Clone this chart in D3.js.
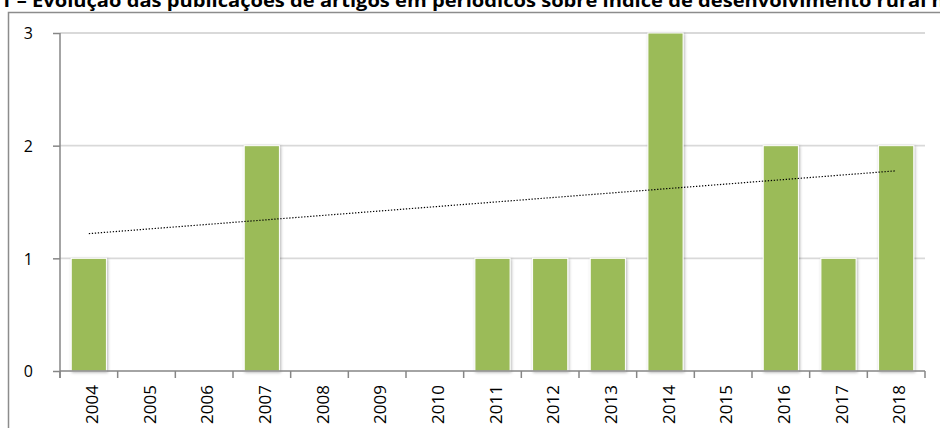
<!DOCTYPE html>
<html>
<head>
<meta charset="utf-8">
<script src="https://cdn.jsdelivr.net/npm/d3@7"></script>
<style>
    body { margin: 0; background: #ffffff; }
    svg { display: block; }
</style>
</head>
<body>
<svg id="workspace" width="940" height="428"></svg>
<script>
/*
 * Publicações por ano - bar chart with linear trend line
 */

var years = ["2004", "2005", "2006", "2007", "2008", "2009", "2010", "2011",
             "2012", "2013", "2014", "2015", "2016", "2017", "2018"];
// blank cells in the source sheet are kept as null
var counts = [1, null, null, 2, null, null, null, 1, 1, 1, 3, null, 2, 1, 2];
var yTicks = [0, 1, 2, 3];
var titleText = "1 – Evolução das publicações de artigos em periódicos sobre índice de desenvolvimento rural";
var titleRest = " no período";

var FONT = "'Open Sans', 'DejaVu Sans', sans-serif";
var svg = d3.select("#workspace");

var plot = { left: 60, right: 925, top: 33, bottom: 371 };

var x = d3.scaleBand()
    .domain(years)
    .range([plot.left, plot.right])
    .paddingInner(0.39)
    .paddingOuter(0.195);

var y = d3.scaleLinear()
    .domain([0, 3])
    .range([plot.bottom, plot.top]);

/**
 * Least squares fit over the non blank cells (as the spreadsheet does)
 * @returns {Object} slope and intercept by category index
 */
function linearTrend() {
    var pts = [];
    counts.forEach(function (v, i) { if (v !== null) pts.push([i, v]); });
    var mx = d3.mean(pts, function (p) { return p[0]; });
    var my = d3.mean(pts, function (p) { return p[1]; });
    var sxy = d3.sum(pts, function (p) { return (p[0] - mx) * (p[1] - my); });
    var sxx = d3.sum(pts, function (p) { return (p[0] - mx) * (p[0] - mx); });
    var slope = sxy / sxx;
    return { slope: slope, intercept: my - slope * mx };
}

/**
 * Title, cut at the top like in the source document
 */
function drawTitle() {
    var t = svg.append("text")
        .attr("x", 0)
        .attr("y", 7)
        .style("font-family", FONT)
        .style("font-weight", "bold")
        .style("font-size", "18px")
        .style("fill", "#000")
        .text(titleText + titleRest);
    var len = t.node().getSubStringLength(0, titleText.length);
    t.attr("transform", "scale(" + (927 / len) + ",1)");
}

/**
 * Outer chart frame
 */
function drawFrame() {
    svg.append("path")
        .attr("d", "M8.5,428 L8.5,12.5 L940,12.5")
        .style("fill", "none")
        .style("stroke", "#8c8c8c")
        .style("stroke-width", 1.5);
}

function drawGrid() {
    svg.append("g").selectAll("line")
        .data(yTicks.filter(function (d) { return d > 0; }))
        .enter().append("line")
        .attr("x1", plot.left)
        .attr("x2", plot.right)
        .attr("y1", function (d) { return y(d); })
        .attr("y2", function (d) { return y(d); })
        .style("stroke", "#d9d9d9")
        .style("stroke-width", 1.8);
}

function drawBars() {
    var defs = svg.append("defs");
    var f = defs.append("filter")
        .attr("id", "shadow")
        .attr("x", "-30%").attr("y", "-10%")
        .attr("width", "160%").attr("height", "120%");
    f.append("feDropShadow")
        .attr("dx", 1)
        .attr("dy", 1)
        .attr("stdDeviation", 1.6)
        .attr("flood-color", "#000")
        .attr("flood-opacity", 0.3);

    svg.append("g").selectAll("rect")
        .data(years.map(function (yr, i) { return { year: yr, value: counts[i] }; })
            .filter(function (d) { return d.value !== null; }))
        .enter().append("rect")
        .attr("x", function (d) { return x(d.year); })
        .attr("y", function (d) { return y(d.value); })
        .attr("width", x.bandwidth())
        .attr("height", function (d) { return y(0) - y(d.value); })
        .style("fill", "#9bbb59")
        .style("stroke", "#ffffff")
        .style("stroke-width", 1)
        .attr("filter", "url(#shadow)");
}

function drawTrend() {
    var tr = linearTrend();
    var first = 0, last = years.length - 1;
    svg.append("line")
        .attr("x1", x(years[first]) + x.bandwidth() / 2)
        .attr("y1", y(tr.intercept + tr.slope * first))
        .attr("x2", x(years[last]) + x.bandwidth() / 2)
        .attr("y2", y(tr.intercept + tr.slope * last))
        .style("stroke", "#000")
        .style("stroke-width", 1.2)
        .style("stroke-dasharray", "1.3,1.7");
}

function drawAxes() {
    var axisColor = "#868686";

    // y axis
    var ya = svg.append("g")
        .attr("transform", "translate(" + plot.left + ",0)")
        .call(d3.axisLeft(y).tickValues(yTicks).tickSize(7).tickPadding(20)
            .tickFormat(d3.format("d")));
    ya.select(".domain").remove();
    ya.selectAll(".tick line").style("stroke", axisColor).style("stroke-width", 1.5);
    ya.selectAll(".tick text")
        .style("font-family", FONT)
        .style("font-size", "16px")
        .style("fill", "#000")
        .attr("dy", "0.36em");
    svg.append("line")
        .attr("x1", plot.left).attr("x2", plot.left)
        .attr("y1", plot.top).attr("y2", plot.bottom + 7)
        .style("stroke", axisColor).style("stroke-width", 1.5);

    // x axis: line plus ticks on band boundaries
    svg.append("line")
        .attr("x1", plot.left).attr("x2", plot.right)
        .attr("y1", plot.bottom).attr("y2", plot.bottom)
        .style("stroke", axisColor).style("stroke-width", 1.5);
    var bounds = years.map(function (d) { return x(d) - x.step() * x.paddingInner() / 2; });
    bounds.push(plot.right);
    svg.append("g").selectAll("line")
        .data(bounds)
        .enter().append("line")
        .attr("x1", function (d) { return d; })
        .attr("x2", function (d) { return d; })
        .attr("y1", plot.bottom)
        .attr("y2", plot.bottom + 7)
        .style("stroke", axisColor).style("stroke-width", 1.5);

    svg.append("g").selectAll("text")
        .data(years)
        .enter().append("text")
        .attr("transform", function (d) {
            return "translate(" + (x(d) + x.bandwidth() / 2 + 3) + "," + (plot.bottom + 14) + ") rotate(-90)";
        })
        .attr("dy", "0.36em")
        .style("text-anchor", "end")
        .style("font-family", FONT)
        .style("font-size", "17px")
        .style("fill", "#000")
        .text(function (d) { return d; });
}

drawTitle();
drawFrame();
drawGrid();
drawBars();
drawTrend();
drawAxes();
</script>
</body>
</html>
